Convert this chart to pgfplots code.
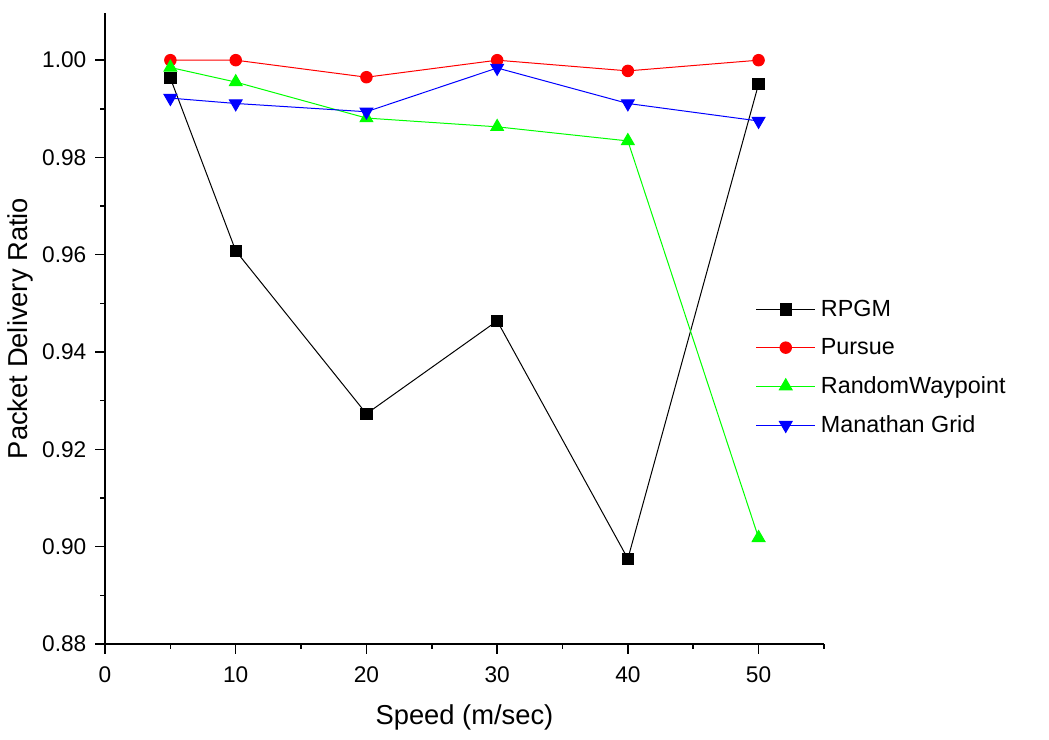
\documentclass[border=0pt]{standalone}
\usepackage{fontspec}
\setmainfont{Liberation Sans}
\usepackage{pgfplots}
\pgfplotsset{compat=1.18}
\begin{document}
\begin{tikzpicture}
\path[use as bounding box] (-78.75pt,-72pt) rectangle (707.75pt,482.75pt);
\begin{axis}[
  at={(0pt,0pt)}, anchor=south west,
  scale only axis,
  width=539pt, height=473pt,
  xmin=0, xmax=55, ymin=0.88, ymax=1.0097,
  axis lines*=left,
  axis line style={line width=1.3pt},
  xtick={0,10,20,30,40,50},
  minor xtick={5,15,25,35,45,55},
  ytick={0.88,0.90,0.92,0.94,0.96,0.98,1.00},
  minor ytick={0.89,0.91,0.93,0.95,0.97,0.99},
  tick align=outside,
  major tick length=7.5pt, minor tick length=3.75pt,
  tick style={line width=1.1pt, black},
  /pgf/number format/assume math mode=true,
  yticklabel style={/pgf/number format/fixed, /pgf/number format/fixed zerofill, /pgf/number format/precision=2, font=\fontsize{17}{20}\selectfont, xshift=-3pt},
  xticklabel style={font=\fontsize{17}{20}\selectfont, yshift=-6pt},
  scaled y ticks=false,
  xlabel={Speed (m/sec)},
  ylabel={Packet Delivery Ratio},
  label style={font=\fontsize{20.5}{24}\selectfont},
  xlabel style={at={(axis description cs:0.5,-0.117)}, anchor=center},
  ylabel style={at={(axis description cs:-0.117,0.5)}, anchor=center},
  legend style={at={(axis description cs:0.905,0.545)}, anchor=north west, draw=none, fill=none,
    font=\fontsize{17.5}{21}\selectfont, row sep=15pt, inner sep=0pt,
    nodes={inner xsep=4pt, inner ysep=0pt}},
  legend cell align=left,
  legend image code/.code={
    \draw[mark repeat=2,mark phase=2] plot coordinates {(0pt,0pt)(22pt,0pt)(44pt,0pt)};
  },
  clip=false,
]
\addplot[black, line width=0.75pt, mark=square*, mark size=4.3pt, mark options={solid}] coordinates {
(5,0.9963) (10,0.9608) (20,0.9273) (30,0.9464) (40,0.8975) (50,0.9951)};
\addlegendentry{RPGM}
\addplot[red, line width=0.75pt, mark=*, mark size=4.3pt, mark options={solid}] coordinates {
(5,1.000) (10,1.000) (20,0.9965) (30,1.000) (40,0.9978) (50,1.000)};
\addlegendentry{Pursue}
\addplot[green, line width=0.75pt, mark=triangle*, mark size=5.5pt, mark options={solid}] coordinates {
(5,0.9985) (10,0.9955) (20,0.9881) (30,0.9863) (40,0.9834) (50,0.9018)};
\addlegendentry{RandomWaypoint}
\addplot[blue, line width=0.75pt, mark=triangle*, mark size=5.5pt, mark options={solid, rotate=180}] coordinates {
(5,0.9922) (10,0.9911) (20,0.9894) (30,0.9984) (40,0.9911) (50,0.9875)};
\addlegendentry{Manathan Grid}
\end{axis}
\end{tikzpicture}
\end{document}
